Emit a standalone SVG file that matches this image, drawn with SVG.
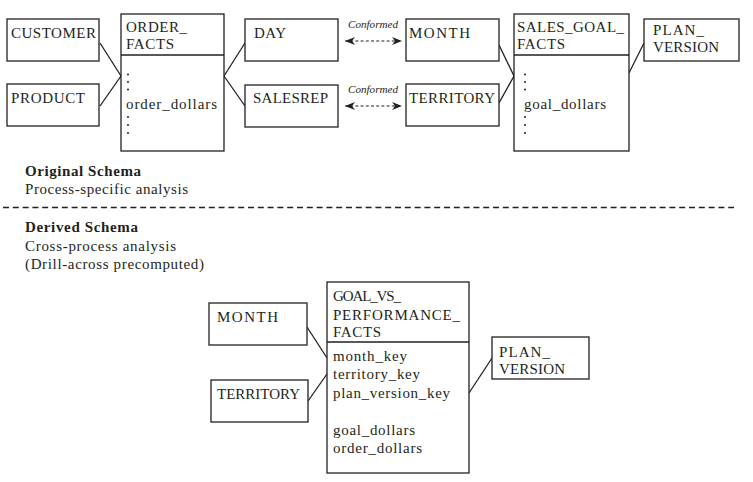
<svg xmlns="http://www.w3.org/2000/svg" width="753" height="482" viewBox="0 0 753 482">
<style>
.box{fill:#fff;stroke:#231f20;stroke-width:1.3}
.ln{stroke:#231f20;stroke-width:1.3;fill:none}
.t{font-family:"Liberation Serif",serif;font-size:15px;fill:#231f20}
.b{font-weight:bold}
.c{font-family:"Liberation Serif",serif;font-style:italic;font-size:11px;fill:#231f20}
.dash{stroke:#231f20;stroke-width:1.2;stroke-dasharray:3 2.2;fill:none}
.dot{fill:#231f20}
</style>
<defs>
<marker id="ah" viewBox="0 0 10 8" refX="10" refY="4" markerWidth="10" markerHeight="8" markerUnits="userSpaceOnUse" orient="auto-start-reverse">
<path d="M0,0 L10,4 L0,8 L3,4 z" fill="#231f20"/>
</marker>
</defs>
<rect width="753" height="482" fill="#fff"/>
<g id="connectors">
<line class="ln" x1="100" y1="43" x2="121" y2="76"/>
<line class="ln" x1="100" y1="106" x2="121" y2="76"/>
<line class="ln" x1="224" y1="76" x2="245" y2="43"/>
<line class="ln" x1="224" y1="76" x2="245" y2="106"/>
<line class="ln" x1="499" y1="45" x2="514" y2="76"/>
<line class="ln" x1="499" y1="103" x2="514" y2="76"/>
<line class="ln" x1="629" y1="73" x2="644" y2="43"/>
<line class="dash" x1="345" y1="41" x2="402" y2="41" marker-start="url(#ah)" marker-end="url(#ah)"/>
<line class="dash" x1="345" y1="106" x2="402" y2="106" marker-start="url(#ah)" marker-end="url(#ah)"/>
<text class="c" x="348" y="28" textLength="50" lengthAdjust="spacingAndGlyphs">Conformed</text>
<text class="c" x="348" y="93" textLength="50" lengthAdjust="spacingAndGlyphs">Conformed</text>
<line class="ln" x1="307" y1="327" x2="327" y2="358"/>
<line class="ln" x1="308" y1="401" x2="327" y2="374"/>
<line class="ln" x1="469" y1="393" x2="492" y2="358"/>
</g>
<g id="customer">
<rect class="box" x="7" y="19" width="92" height="42"/>
<text class="t" x="11" y="38" textLength="85">CUSTOMER</text>
</g>
<g id="product">
<rect class="box" x="7" y="84" width="92" height="42"/>
<text class="t" x="11" y="103" textLength="74">PRODUCT</text>
</g>
<g id="order_facts">
<rect class="box" x="121" y="14" width="103" height="137"/>
<line class="ln" x1="121" y1="55" x2="224" y2="55"/>
<text class="t" x="126" y="32" textLength="61">ORDER_</text>
<text class="t" x="126" y="49" textLength="48">FACTS</text>
<circle class="dot" cx="128" cy="74.5" r="1"/>
<circle class="dot" cx="128" cy="82" r="1"/>
<circle class="dot" cx="128" cy="89.5" r="1"/>
<text class="t" x="126" y="109" textLength="91">order_dollars</text>
<circle class="dot" cx="128" cy="117" r="1"/>
<circle class="dot" cx="128" cy="125" r="1"/>
<circle class="dot" cx="128" cy="133" r="1"/>
</g>
<g id="day">
<rect class="box" x="245" y="19" width="93" height="42"/>
<text class="t" x="254" y="38" textLength="32">DAY</text>
</g>
<g id="salesrep">
<rect class="box" x="245" y="85" width="93" height="42"/>
<text class="t" x="253" y="103" textLength="75">SALESREP</text>
</g>
<g id="month">
<rect class="box" x="406" y="19" width="93" height="42"/>
<text class="t" x="409" y="38" textLength="61">MONTH</text>
</g>
<g id="territory">
<rect class="box" x="406" y="84" width="93" height="42"/>
<text class="t" x="409" y="103" textLength="86">TERRITORY</text>
</g>
<g id="sales_goal_facts">
<rect class="box" x="514" y="14" width="115" height="137"/>
<line class="ln" x1="514" y1="55" x2="629" y2="55"/>
<text class="t" x="517" y="32" textLength="107">SALES_GOAL_</text>
<text class="t" x="517" y="49" textLength="48">FACTS</text>
<circle class="dot" cx="525" cy="74.5" r="1"/>
<circle class="dot" cx="525" cy="82" r="1"/>
<circle class="dot" cx="525" cy="89.5" r="1"/>
<text class="t" x="524" y="109" textLength="82">goal_dollars</text>
<circle class="dot" cx="525" cy="117" r="1"/>
<circle class="dot" cx="525" cy="125" r="1"/>
<circle class="dot" cx="525" cy="133" r="1"/>
</g>
<g id="plan_version">
<rect class="box" x="644" y="19" width="95" height="42"/>
<text class="t" x="653" y="35" textLength="51">PLAN_</text>
<text class="t" x="653" y="52" textLength="66">VERSION</text>
</g>
<g id="legend">
<text class="t b" x="25" y="176" textLength="116">Original Schema</text>
<text class="t" x="25" y="194" textLength="163">Process-specific analysis</text>
<line x1="3" y1="207.5" x2="734" y2="207.5" stroke="#231f20" stroke-width="1.3" stroke-dasharray="6 3.8"/>
<text class="t b" x="25" y="232" textLength="113">Derived Schema</text>
<text class="t" x="25" y="251" textLength="151">Cross-process analysis</text>
<text class="t" x="25" y="269" textLength="179">(Drill-across precomputed)</text>
</g>
<g id="month2">
<rect class="box" x="209" y="303" width="98" height="42"/>
<text class="t" x="217" y="322" textLength="61">MONTH</text>
</g>
<g id="territory2">
<rect class="box" x="211" y="380" width="97" height="42"/>
<text class="t" x="217" y="399" textLength="83">TERRITORY</text>
</g>
<g id="goal_vs_performance_facts">
<rect class="box" x="327" y="282" width="142" height="191"/>
<line class="ln" x1="327" y1="342" x2="469" y2="342"/>
<text class="t" x="333" y="300.5" textLength="68">GOAL_VS_</text>
<text class="t" x="333" y="319.5" textLength="127">PERFORMANCE_</text>
<text class="t" x="333" y="337" textLength="48">FACTS</text>
<text class="t" x="333" y="361" textLength="74">month_key</text>
<text class="t" x="333" y="379" textLength="87">territory_key</text>
<text class="t" x="333" y="398" textLength="117">plan_version_key</text>
<text class="t" x="333" y="435" textLength="82">goal_dollars</text>
<text class="t" x="333" y="453" textLength="89">order_dollars</text>
</g>
<g id="plan_version2">
<rect class="box" x="492" y="337" width="97" height="42"/>
<text class="t" x="499" y="356.5" textLength="51">PLAN_</text>
<text class="t" x="499" y="374" textLength="66">VERSION</text>
</g>
</svg>
